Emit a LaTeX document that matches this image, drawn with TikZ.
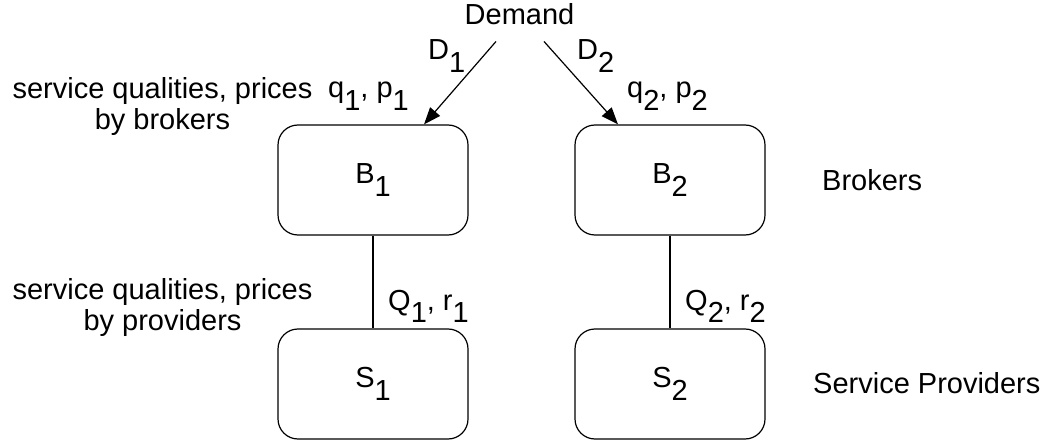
\documentclass[tikz,border=0pt]{standalone}
\usepackage{fontspec}
\setmainfont{Liberation Sans}
\usetikzlibrary{arrows.meta}
\newcommand{\lo}[1]{\raisebox{-12.5pt}{#1}}
\begin{document}
\begin{tikzpicture}[x=1pt,y=-1pt,
  every node/.style={font=\fontsize{29}{31}\selectfont},
  txt/.style={inner sep=0pt},
  agent/.style={draw,line width=1.2pt,rounded corners=20pt,minimum width=190pt,minimum height=110pt,inner sep=0pt},
  link/.style={line width=1.2pt},
  flow/.style={line width=1.2pt,-{Triangle[length=17pt,width=13pt]}}]
\useasboundingbox (0,0) rectangle (1048,443);
% boxes
\node[agent] (B1) at (373,180) {B\lo{1}};
\node[agent] (B2) at (670,180) {B\lo{2}};
\node[agent] (S1) at (373,384) {S\lo{1}};
\node[agent] (S2) at (670,384) {S\lo{2}};
% demand
\node[txt,anchor=base] (dem) at (519.5,25) {Demand};
\coordinate (d1) at ([xshift=-23.5pt,yshift=-16pt]dem.south);
\coordinate (d2) at ([xshift=24.5pt,yshift=-16pt]dem.south);
\draw[flow] (d1) -- ([xshift=51pt]B1.north);
\draw[flow] (d2) -- ([xshift=-52pt]B2.north);
% links
\draw[link] (B1.south) -- (S1.north);
\draw[link] (B2.south) -- (S2.north);
% labels
\node[txt,anchor=base west] (lD1) at (428,60) {D\lo{1}};
\node[txt,anchor=base west] (lD2) at (577,60) {D\lo{2}};
\node[txt,anchor=base west] (lq1) at (328,98) {q\lo{1}, p\lo{1}};
\node[txt,anchor=base west] (lq2) at (627,98) {q\lo{2}, p\lo{2}};
\node[txt,anchor=base west] (lQ1) at (388,310) {Q\lo{1}, r\lo{1}};
\node[txt,anchor=base west] (lQ2) at (685,310) {Q\lo{2}, r\lo{2}};
\node[txt,anchor=base,align=center] (lbrk) at (162.5,129.5) {service qualities, prices\\by brokers};
\node[txt,anchor=base,align=center] (lprv) at (162.5,330) {service qualities, prices\\by providers};
\node[txt,anchor=base west] (brk) at (822,191) {Brokers};
\node[txt,anchor=base west] (spr) at (813,393) {Service Providers};
\end{tikzpicture}
\end{document}
